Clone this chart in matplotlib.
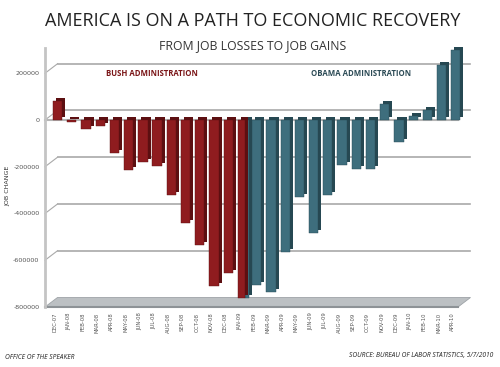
import numpy as np
import matplotlib.pyplot as plt
from matplotlib.patches import Polygon
from matplotlib.transforms import offset_copy, ScaledTranslation

# ---- data ----
months = ['DEC-07', 'JAN-08', 'FEB-08', 'MAR-08', 'APR-08', 'MAY-08', 'JUN-08',
          'JUL-08', 'AUG-08', 'SEP-08', 'OCT-08', 'NOV-08', 'DEC-08', 'JAN-09',
          'FEB-09', 'MAR-09', 'APR-09', 'MAY-09', 'JUN-09', 'JUL-09', 'AUG-09',
          'SEP-09', 'OCT-09', 'NOV-09', 'DEC-09', 'JAN-10', 'FEB-10', 'MAR-10',
          'APR-10']
# Dec-07 .. Jan-09
bush_values = [80000, -10000, -40000, -25000, -140000, -215000, -180000,
               -195000, -320000, -440000, -535000, -710000, -655000, -760000]
# Jan-09 .. Apr-10 (Jan-09 shared with the Bush series)
obama_values = [-760000, -705000, -735000, -565000, -330000, -483000, -320000,
                -193000, -210000, -210000, 70000, -95000, 15000, 43000,
                235000, 300000]
y_ticks = [200000, 0, -200000, -400000, -600000, -800000]
grid_values = [200000, 0, -200000, -400000, -600000]

RED, RED_DARK = '#8f1c1f', '#5c0f11'
TEAL, TEAL_DARK = '#3e6e7d', '#264852'
GRID = '#a9a9a9'

fig = plt.figure(figsize=(5, 3.67), dpi=100)
ax = fig.add_axes([0.09, 0.1635, 0.826, 0.7057])
XLIM = (-0.88, 28.15)
YLIM = (-800000, 308000)
ax.set_xlim(*XLIM)
ax.set_ylim(*YLIM)


def px_offset(dx, dy):
    """pixel offset -> data offset"""
    inv = ax.transData.inverted()
    x0, y0 = inv.transform((0, 0))
    x1, y1 = inv.transform((dx, dy))
    return x1 - x0, y1 - y0


# back wall gridlines + diagonal connectors
wdx, wdy = px_offset(12.5, 9.5)
for v in grid_values:
    ax.plot([XLIM[0] + wdx, XLIM[1] + wdx], [v + wdy, v + wdy],
            color=GRID, lw=1.2, zorder=1, clip_on=False)
    ax.plot([XLIM[0], XLIM[0] + wdx], [v, v + wdy],
            color=GRID, lw=0.8, zorder=1, clip_on=False)

# floor
y0 = YLIM[0]
floor = Polygon([(XLIM[0], y0), (XLIM[1], y0), (XLIM[1] + wdx, y0 + wdy),
                 (XLIM[0] + wdx, y0 + wdy)], closed=True,
                facecolor='#bcc0c3', edgecolor='#9ea3a7', lw=0.6,
                zorder=1, clip_on=False)
ax.add_patch(floor)
ax.plot([XLIM[0], XLIM[1]], [y0, y0], color='#8d9296', lw=1.5,
        zorder=1.2, clip_on=False)

# front zero line
ax.plot([XLIM[0], XLIM[1]], [0, 0], color='#b5b5b5', lw=1.5, zorder=1.5,
        clip_on=False)

# bars (3D look: darker copy shifted up/right behind the front face)
back = offset_copy(ax.transData, fig=fig, x=3, y=3, units='dots')
W = 0.65

bush_x = np.arange(len(bush_values), dtype=float)
bush_w = np.full(len(bush_values), W)
bush_x[-1], bush_w[-1] = -0.07 + bush_x[-1], 0.5

obama_x = np.arange(len(bush_values) - 1, len(months), dtype=float)
obama_w = np.full(len(obama_values), W)
obama_x[0], obama_w[0] = obama_x[0] + 0.3, 0.3

ax.bar(obama_x, obama_values, obama_w, color=TEAL_DARK, transform=back,
       zorder=2, clip_on=False)
ax.bar(obama_x, obama_values, obama_w, color=TEAL, edgecolor=TEAL_DARK,
       lw=0.3, zorder=3, clip_on=False)
ax.bar(bush_x, bush_values, bush_w, color=RED_DARK, transform=back,
       zorder=4, clip_on=False)
ax.bar(bush_x, bush_values, bush_w, color=RED, edgecolor=RED_DARK,
       lw=0.3, zorder=5, clip_on=False)

ax.set_xlim(*XLIM)
ax.set_ylim(*YLIM)

# axes styling
for s in ['top', 'right', 'bottom']:
    ax.spines[s].set_visible(False)
ax.spines['left'].set_color('#c4c4c4')
ax.spines['left'].set_linewidth(2)

ax.set_yticks(y_ticks)
ax.set_yticklabels([str(v) for v in y_ticks], fontsize=4.6, color='#555555')
ax.tick_params(axis='y', length=0, pad=4)
ax.set_xticks(range(len(months)))
ax.set_xticklabels(months, rotation=90, fontsize=3.8, color='#555555')
ax.tick_params(axis='x', length=0, pad=4)
for lab in ax.get_xticklabels():
    lab.set_transform(lab.get_transform() +
                      ScaledTranslation(-3 / 100, 0, fig.dpi_scale_trans))

fig.text(0.016, 0.495, 'JOB CHANGE', rotation=90, ha='center', va='center',
         fontsize=4.6, color='#333333')

# titles and annotations
fig.text(0.506, 0.942, 'AMERICA IS ON A PATH TO ECONOMIC RECOVERY',
         ha='center', va='center', fontsize=13, color='#222222',
         family='Open Sans')
fig.text(0.506, 0.877, 'FROM JOB LOSSES TO JOB GAINS', ha='center',
         va='center', fontsize=8.8, color='#333333', family='Open Sans')
fig.text(0.304, 0.801, 'BUSH ADMINISTRATION', ha='center', va='center',
         fontsize=5.6, fontweight='bold', color='#7a1517', family='Open Sans')
fig.text(0.722, 0.801, 'OBAMA ADMINISTRATION', ha='center', va='center',
         fontsize=5.6, fontweight='bold', color='#2b4a55', family='Open Sans')

fig.text(0.01, 0.027, 'OFFICE OF THE SPEAKER', ha='left', va='center',
         fontsize=4.8, style='italic', color='#222222', family='Open Sans')
fig.text(0.986, 0.03, 'SOURCE: BUREAU OF LABOR STATISTICS, 5/7/2010',
         ha='right', va='center', fontsize=4.8, style='italic',
         color='#222222', family='Open Sans')

fig.savefig('out.png', dpi=100)
